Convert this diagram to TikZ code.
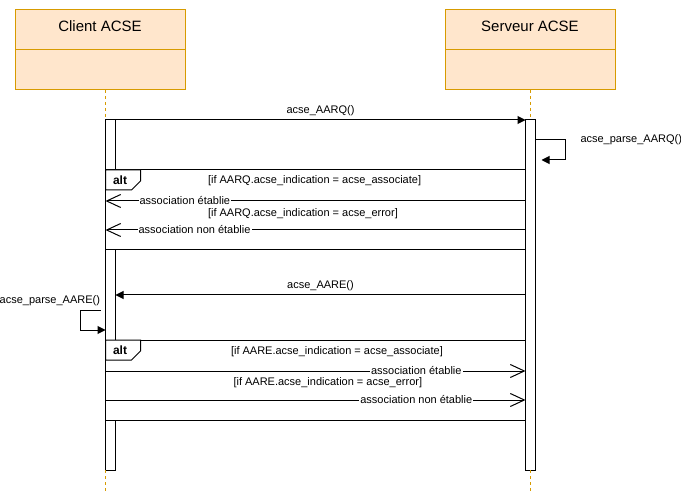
\documentclass[tikz,border=0pt]{standalone}
\usepackage{fontspec}
\setmainfont{Liberation Sans}
\usepackage{tikz}
\usetikzlibrary{arrows.meta, calc, positioning}
\definecolor{headfill}{HTML}{FFE6CC}
\definecolor{headdraw}{HTML}{D79B00}
\tikzstyle{lifehead} = [rectangle, draw=headdraw, fill=headfill, minimum width=170pt, minimum height=40pt, inner sep=0pt, outer sep=0pt, font=\fontsize{15}{18}\selectfont]
\tikzstyle{actbar} = [rectangle, draw=black, fill=white, minimum width=10pt, minimum height=350pt, inner sep=0pt, outer sep=0pt]
\tikzstyle{altframe} = [rectangle, draw=black, fill=white, minimum width=420pt, minimum height=80pt, inner sep=0pt, outer sep=0pt]
\tikzstyle{lifeline} = [draw=headdraw, dash pattern=on 3pt off 3pt]
\tikzstyle{call} = [-{Triangle[length=8pt,width=8pt]}]
\tikzstyle{reply} = [-{Straight Barb[length=14pt,width=13pt]}]
\tikzstyle{tag} = [fill=white, inner sep=1pt]
\tikzstyle{alttag} = [anchor=west, inner sep=0pt, font=\bfseries\fontsize{12}{14}\selectfont]
\tikzstyle{cond} = [anchor=west, inner sep=0pt]

\begin{document}
\begin{tikzpicture}[x=1pt, y=-1pt, line width=1pt, font=\fontsize{11}{13}\selectfont]
\useasboundingbox (0,0) rectangle (681,492);
% message rows
\coordinate (RowAARQ) at (0,120);
\coordinate (RowParseQ) at (0,140);
\coordinate (RowAltQ) at (0,170);
\coordinate (RowOkQ) at (0,201);
\coordinate (RowErrQ) at (0,230);
\coordinate (RowAARE) at (0,295);
\coordinate (RowParseE) at (0,310);
\coordinate (RowAltE) at (0,340);
\coordinate (RowOkE) at (0,371);
\coordinate (RowErrE) at (0,400);
\coordinate (Bottom) at (0,492);

% lifelines
\node (ClientHead) [lifehead, text depth=8pt] at (100,30) {Client ACSE};
\node (ClientBody) [lifehead, below=0pt of ClientHead] {};
\node (ServerHead) [lifehead, text depth=8pt] at (530,30) {Serveur ACSE};
\node (ServerBody) [lifehead, below=0pt of ServerHead] {};
\node (ClientBar) [actbar, below=30pt of ClientBody, xshift=10.5pt] {};
\node (ServerBar) [actbar, below=30pt of ServerBody, xshift=0.5pt] {};
\draw [lifeline] (ClientBody.south -| ClientBar.west) -- (ClientBar.north west);
\draw [lifeline] (ClientBar.south west) -- (ClientBar.west |- Bottom);
\draw [lifeline] (ServerBody.south -| ServerBar.north) -- (ServerBar.north);
\draw [lifeline] (ServerBar.south) -- (ServerBar.south |- Bottom);

% request
\draw [call] (ClientBar.east |- RowAARQ) -- (ServerBar.west |- RowAARQ) node[midway, above] {acse\_AARQ()};
\draw [call] (ServerBar.east |- RowParseQ) -- ++(30,0) -- ++(0,20) -- ++(-24,0);
\node (ParseAARQ) [anchor=west, inner sep=0pt] at ($(ServerBar.east |- RowParseQ)+(44.5,0)$) {acse\_parse\_AARQ()};

% first alt
\node (AltAARQ) [altframe, anchor=north west] at (ClientBar.west |- RowAltQ) {};
\draw [fill=white] (AltAARQ.north west) -- ++(35,0) -- ++(0,11) -- ++(-9,9) -- ++(-26,0) -- cycle;
\node (TagAARQ) [alttag] at ($(AltAARQ.north west)+(7,10)$) {alt};
\node (CondOkQ) [cond] at ($(AltAARQ.north west)+(102,11)$) {[if AARQ.acse\_indication = acse\_associate]};
\node (CondErrQ) [cond] at ($(AltAARQ.north west)+(102,44)$) {[if AARQ.acse\_indication = acse\_error]};
\draw [reply] (AltAARQ.east |- RowOkQ) -- (AltAARQ.west |- RowOkQ) node[tag, pos=0.811] {association établie};
\draw [reply] (AltAARQ.east |- RowErrQ) -- (AltAARQ.west |- RowErrQ) node[tag, pos=0.788] {association non établie};

% response
\draw [call] (ServerBar.west |- RowAARE) -- (ClientBar.east |- RowAARE) node[midway, above] {acse\_AARE()};
\coordinate (ParseOutE) at ($(ClientBar.west |- RowParseE)+(-5,0)$);
\draw [call] (ParseOutE) -- ++(-20,0) -- ++(0,20) -- ++(25,0);
\node (ParseAARE) [anchor=east, inner sep=0pt] at ($(ParseOutE)+(0,-9.5)$) {acse\_parse\_AARE()};

% second alt
\node (AltAARE) [altframe, anchor=north west] at (ClientBar.west |- RowAltE) {};
\draw [fill=white] (AltAARE.north west) -- ++(35,0) -- ++(0,11) -- ++(-9,9) -- ++(-26,0) -- cycle;
\node (TagAARE) [alttag] at ($(AltAARE.north west)+(7,10)$) {alt};
\node (CondOkE) [cond] at ($(AltAARE.north west)+(125,12)$) {[if AARE.acse\_indication = acse\_associate]};
\node (CondErrE) [cond] at ($(AltAARE.north west)+(127.5,43)$) {[if AARE.acse\_indication = acse\_error]};
\draw [reply] (AltAARE.west |- RowOkE) -- (AltAARE.east |- RowOkE) node[tag, pos=0.74] {association établie};
\draw [reply] (AltAARE.west |- RowErrE) -- (AltAARE.east |- RowErrE) node[tag, pos=0.74] {association non établie};
\end{tikzpicture}
\end{document}
